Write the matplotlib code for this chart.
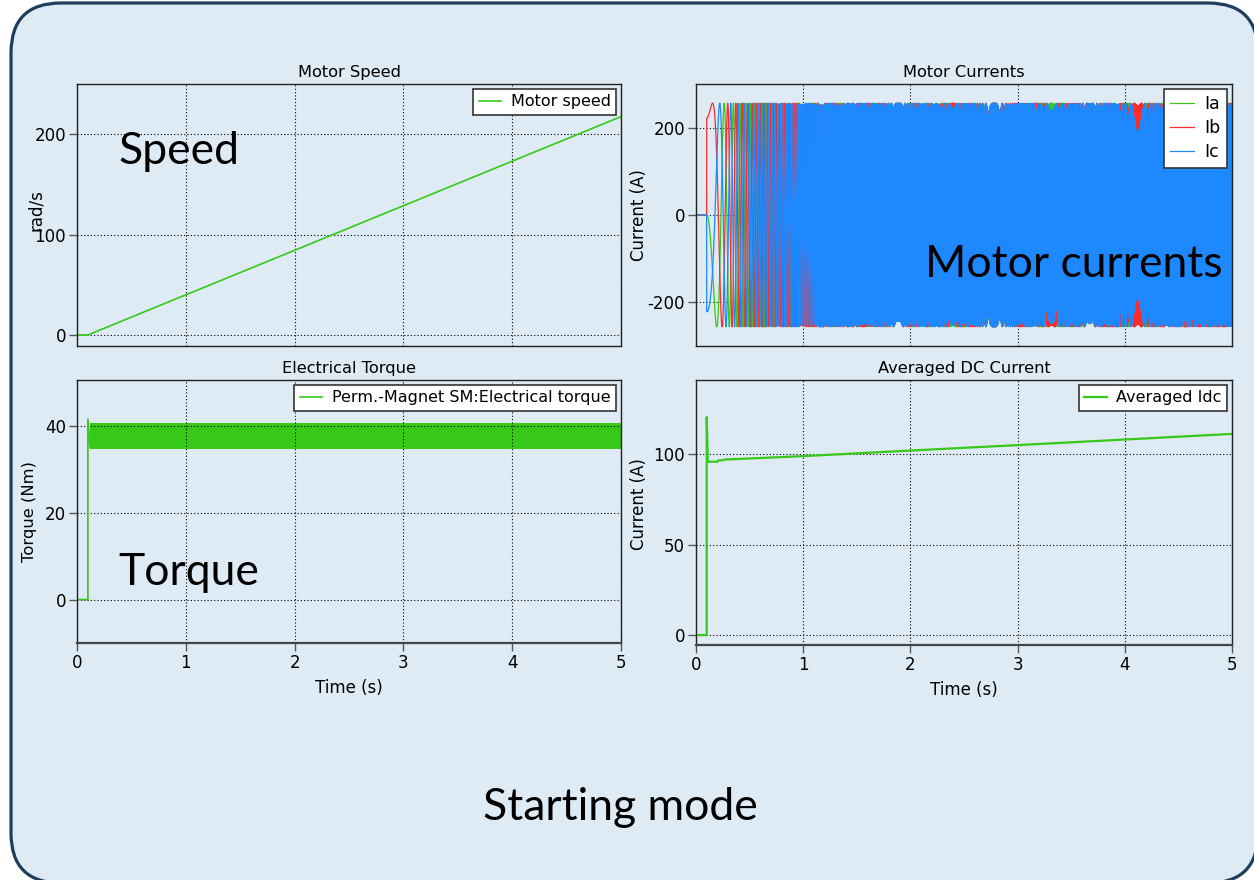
import numpy as np
import matplotlib
matplotlib.use("Agg")
import matplotlib.pyplot as plt
from matplotlib.patches import FancyBboxPatch

# --- data ---------------------------------------------------------------
# motor speed (rad/s): at rest until the drive starts, then a linear ramp
speed_t = [0.0, 0.1, 5.0]
speed_w = [0.0, 0.0, 217.5]

# phase currents follow the rotor electrical angle
pole_pairs = 8
i_peak = 257.0          # A
phase_names = ["Ia", "Ib", "Ic"]
phase_offsets = [0.0, -2 * np.pi / 3, 2 * np.pi / 3]
sample_step = 0.0011    # s, logged step of the scope

# electrical torque: start-up spike then a ripple band
torque_t = [0.0, 0.1, 0.1, 0.12]
torque_v = [0.0, 0.0, 41.5, 35.0]
ripple_t = [0.12, 5.0]
ripple_lo = [34.7, 34.7]
ripple_hi = [40.6, 40.6]

# averaged DC link current
idc_t = [0.0, 0.1, 0.1, 0.11, 0.2, 0.21, 0.25, 0.26, 1.0, 2.0, 3.0, 4.0, 5.0]
idc_v = [0.0, 0.0, 120.5, 95.8, 95.8, 96.6, 96.6, 97.0, 98.9, 102.0, 105.0, 108.1, 111.2]

time_ticks = [0, 1, 2, 3, 4, 5]

GREEN = "#36c918"
RED = "#ff2a2a"
BLUE = "#1e88ff"
BG = "#deebf5"

plt.rcParams["font.family"] = "DejaVu Sans"
plt.rcParams["axes.unicode_minus"] = False

W, H = 1254, 880
fig = plt.figure(figsize=(W / 100, H / 100), dpi=100, facecolor="white")

# rounded slide panel
panel = FancyBboxPatch((0.11, -0.03), 12.47, 8.80,
                       boxstyle="round,pad=0,rounding_size=0.5",
                       transform=fig.dpi_scale_trans,
                       facecolor=BG, edgecolor="#1f3d5c", linewidth=2.3, zorder=-5)
fig.patches.append(panel)


def make_axes(x0, y0, x1, y1):
    ax = fig.add_axes([x0 / W, 1 - y1 / H, (x1 - x0) / W, (y1 - y0) / H])
    ax.set_facecolor("none")
    ax.grid(True, color="black", linestyle=(0, (1, 2)), linewidth=0.8)
    for s in ax.spines.values():
        s.set_color("#222222")
        s.set_linewidth(1.0)
    ax.tick_params(labelsize=12, color="#555555", length=6, width=1, pad=2)
    ax.set_xlim(0, 5)
    ax.set_xticks(time_ticks)
    return ax


def style_legend(ax, fontsize=11.5, **kw):
    leg = ax.legend(loc="upper right", fontsize=fontsize, fancybox=False, framealpha=1,
                    edgecolor="#333333", handlelength=1.4, handletextpad=0.6,
                    borderpad=0.35, borderaxespad=0.3, **kw)
    leg.get_frame().set_linewidth(1.2)
    return leg


# --- Motor Speed --------------------------------------------------------
ax1 = make_axes(77, 84, 621, 346)
ax1.plot(speed_t, speed_w, color=GREEN, linewidth=1.2, label="Motor speed")
ax1.set_ylim(-11, 250)
ax1.set_yticks([0, 100, 200])
ax1.tick_params(axis="x", length=0, labelbottom=False)
ax1.set_title("Motor Speed", fontsize=11.7, pad=5)
ax1.set_ylabel("rad/s", fontsize=12)
ax1.yaxis.set_label_coords(-0.059, 0.52)
style_legend(ax1)

# --- Motor Currents -----------------------------------------------------
ax2 = make_axes(696, 84, 1232, 346)
t = np.arange(0.0, 5.0 + sample_step / 2, sample_step)
w = np.interp(t, speed_t, speed_w)
theta = pole_pairs * np.concatenate([[0.0], np.cumsum((w[1:] + w[:-1]) / 2 * np.diff(t))])
running = t >= speed_t[1]
for name, off, col in zip(phase_names, phase_offsets, [GREEN, RED, BLUE]):
    i_ph = np.where(running, -i_peak * np.sin(theta + off), 0.0)
    ax2.plot(t, i_ph, color=col, linewidth=0.9, label=name)
ax2.set_ylim(-301, 301)
ax2.set_yticks([-200, 0, 200])
ax2.tick_params(axis="x", length=0, labelbottom=False)
ax2.set_title("Motor Currents", fontsize=11.7, pad=5)
ax2.set_ylabel("Current (A)", fontsize=12)
ax2.yaxis.set_label_coords(-0.09, 0.5)
style_legend(ax2, fontsize=12.5, labelspacing=0.35)

# --- Electrical Torque --------------------------------------------------
ax3 = make_axes(77, 380, 621, 643)
ax3.fill_between(ripple_t, ripple_lo, ripple_hi, color=GREEN, linewidth=0)
ax3.plot(torque_t, torque_v, color=GREEN, linewidth=1.2,
         label="Perm.-Magnet SM:Electrical torque")
ax3.set_ylim(-10, 50.5)
ax3.set_yticks([0, 20, 40])
ax3.set_title("Electrical Torque", fontsize=11.7, pad=5)
ax3.set_ylabel("Torque (Nm)", fontsize=11.8)
ax3.yaxis.set_label_coords(-0.0735, 0.5)
ax3.set_xlabel("Time (s)", fontsize=12, labelpad=5)
ax3.spines["bottom"].set_linewidth(1.6)
ax3.spines["bottom"].set_color("#444444")
style_legend(ax3)

# --- Averaged DC Current ------------------------------------------------
ax4 = make_axes(696, 380, 1232, 645)
ax4.plot(idc_t, idc_v, color=GREEN, linewidth=1.6, label="Averaged Idc")
ax4.set_ylim(-5.5, 141)
ax4.set_yticks([0, 50, 100])
ax4.set_title("Averaged DC Current", fontsize=11.7, pad=5)
ax4.set_ylabel("Current (A)", fontsize=12)
ax4.yaxis.set_label_coords(-0.09, 0.53)
ax4.set_xlabel("Time (s)", fontsize=12, labelpad=5)
ax4.spines["bottom"].set_linewidth(1.6)
ax4.spines["bottom"].set_color("#444444")
style_legend(ax4)

# --- captions -----------------------------------------------------------
cap = dict(fontfamily="Lato", fontsize=32, color="black", va="baseline", ha="left")
fig.text(118 / W, 1 - 164 / H, "Speed", **cap)
fig.text(925 / W, 1 - 277 / H, "Motor currents", zorder=10, **cap)
fig.text(118 / W, 1 - 585 / H, "Torque", **cap)
fig.text(483 / W, 1 - 820 / H, "Starting mode", **cap)

fig.savefig("out.png", dpi=100, facecolor="white")
